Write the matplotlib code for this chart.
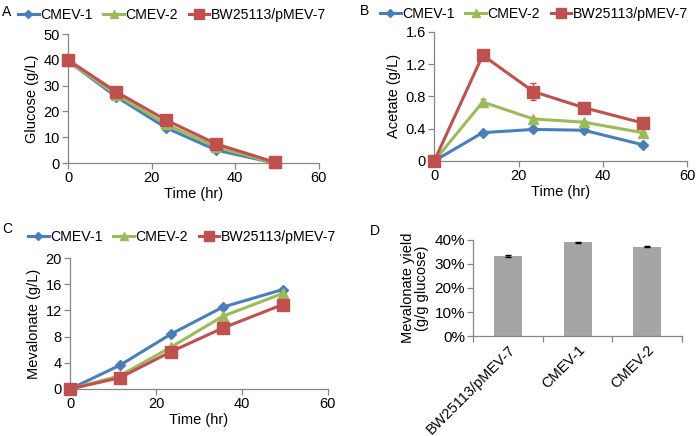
import matplotlib
matplotlib.use("Agg")
import matplotlib.pyplot as plt
from matplotlib.ticker import PercentFormatter
from matplotlib.lines import Line2D

plt.rcParams['font.family'] = ['Liberation Sans', 'DejaVu Sans']
plt.rcParams['font.size'] = 10

# ---------------- data ----------------
series = ["CMEV-1", "CMEV-2", "BW25113/pMEV-7"]
time_h = [0, 11.5, 23.5, 35.5, 49.5]

glucose_cmev1 = [39.5, 25.7, 13.6, 5.0, 0.0]
glucose_cmev2 = [39.5, 26.5, 15.0, 6.2, 0.0]
glucose_bw = [39.9, 27.6, 16.6, 7.4, 0.3]

acetate_cmev1 = [0.0, 0.35, 0.39, 0.38, 0.20]
acetate_cmev2 = [0.0, 0.73, 0.52, 0.48, 0.35]
acetate_bw = [0.0, 1.31, 0.86, 0.66, 0.47]
acetate_err_cmev1 = [0.0, 0.01, 0.01, 0.01, 0.01]
acetate_err_cmev2 = [0.0, 0.04, 0.01, 0.01, 0.01]
acetate_err_bw = [0.0, 0.02, 0.11, 0.02, 0.02]

meva_cmev1 = [0.0, 3.6, 8.4, 12.5, 15.2]
meva_cmev2 = [0.0, 2.0, 6.4, 11.1, 14.6]
meva_bw = [0.0, 1.7, 5.7, 9.3, 12.9]

yield_strains = ["BW25113/pMEV-7", "CMEV-1", "CMEV-2"]
yield_values = [0.332, 0.390, 0.372]
yield_err = [0.005, 0.002, 0.003]

# ---------------- style ----------------
colors = ["#4a7ebb", "#9bbb59", "#c0504d"]
markers = ["D", "^", "s"]
msizes = [5.5, 7, 8]
leg_msizes = [4.5, 6, 6.5]
spine_col = "#868686"

fig = plt.figure(figsize=(6.96, 4.36), dpi=100)

def style_axes(ax):
    for s in ["top", "right"]:
        ax.spines[s].set_visible(False)
    for s in ["left", "bottom"]:
        ax.spines[s].set_color(spine_col)
        ax.spines[s].set_linewidth(0.9)
    ax.tick_params(direction="out", length=4, width=0.9, color=spine_col,
                   labelsize=10.5, pad=2)

def line_panel(rect, ys, errs, ylim, yticks, ylabel, ytickfmt, legx, legy):
    ax = fig.add_axes(rect)
    style_axes(ax)
    for i in range(3):
        kw = dict(color=colors[i], marker=markers[i], markersize=msizes[i],
                  linewidth=2.2, clip_on=False, zorder=3 + i)
        if errs is not None:
            ax.errorbar(time_h, ys[i], yerr=errs[i], capsize=2.5, elinewidth=1,
                        ecolor=colors[i], **kw)
        else:
            ax.plot(time_h, ys[i], **kw)
    ax.set_xlim(0, 60)
    ax.set_xticks([0, 20, 40, 60])
    ax.set_ylim(*ylim)
    ax.set_yticks(yticks)
    ax.set_yticklabels([ytickfmt(v) for v in yticks])
    ax.set_xlabel("Time (hr)", fontsize=10.5, labelpad=1)
    ax.set_ylabel(ylabel, fontsize=10.5, labelpad=3)
    handles = [Line2D([], [], color=colors[i], marker=markers[i],
                      markersize=leg_msizes[i], linewidth=2.2) for i in range(3)]
    ax.legend(handles, series, loc="center left", bbox_to_anchor=(legx, legy),
              bbox_transform=fig.transFigure, ncol=3,
              frameon=False, handlelength=1.45, handletextpad=0.12,
              columnspacing=0.75, fontsize=10.2, borderaxespad=0, borderpad=0)
    return ax

axA = line_panel([0.098, 0.626, 0.360, 0.296],
                 [glucose_cmev1, glucose_cmev2, glucose_bw], None,
                 (0, 50), [0, 10, 20, 30, 40, 50], "Glucose (g/L)",
                 lambda v: f"{v:g}", 18 / 696, 0.966)

axB = line_panel([0.624, 0.631, 0.363, 0.296],
                 [acetate_cmev1, acetate_cmev2, acetate_bw],
                 [acetate_err_cmev1, acetate_err_cmev2, acetate_err_bw],
                 (0, 1.6), [0, 0.4, 0.8, 1.2, 1.6], "Acetate (g/L)",
                 lambda v: "0" if v == 0 else f"{v:.1f}", 380 / 696, 0.968)

axC = line_panel([0.101, 0.108, 0.370, 0.300],
                 [meva_cmev1, meva_cmev2, meva_bw], None,
                 (0, 20), [0, 4, 8, 12, 16, 20], "Mevalonate (g/L)",
                 lambda v: f"{v:g}", 28 / 696, 0.456)

# Panel D
axD = fig.add_axes([0.680, 0.229, 0.300, 0.221])
style_axes(axD)
xpos = list(range(len(yield_strains)))
axD.bar(xpos, yield_values, width=0.4, color="#a5a5a5", zorder=2)
axD.errorbar(xpos, yield_values, yerr=yield_err, fmt="none", ecolor="black",
             elinewidth=0.9, capsize=2.5, zorder=3)
axD.set_xlim(-0.5, len(yield_strains) - 0.5)
axD.set_ylim(0, 0.40)
axD.set_yticks([0, 0.1, 0.2, 0.3, 0.4])
axD.yaxis.set_major_formatter(PercentFormatter(1.0, decimals=0))
axD.set_xticks([-0.5, 0.5, 1.5, 2.5], minor=False)
axD.set_xticklabels([])
axD.set_xticks(xpos, minor=True)
axD.set_xticklabels(yield_strains, minor=True, rotation=45, ha="right",
                    rotation_mode="anchor", fontsize=10.5)
axD.tick_params(axis="x", which="minor", length=0, pad=5)
axD.tick_params(axis="x", which="major", direction="out", length=4)
axD.tick_params(axis="y", labelsize=11)
axD.set_ylabel("Mevalonate yield\n(g/g glucose)", fontsize=10.5, labelpad=4,
               linespacing=1.0)

# panel letters
fig.text(0.003, 0.988, "A", fontsize=10, va="top", ha="left")
fig.text(0.517, 0.990, "B", fontsize=10, va="top", ha="left")
fig.text(0.003, 0.490, "C", fontsize=10, va="top", ha="left")
fig.text(0.531, 0.487, "D", fontsize=10, va="top", ha="left")

fig.savefig("out.png", dpi=100)
